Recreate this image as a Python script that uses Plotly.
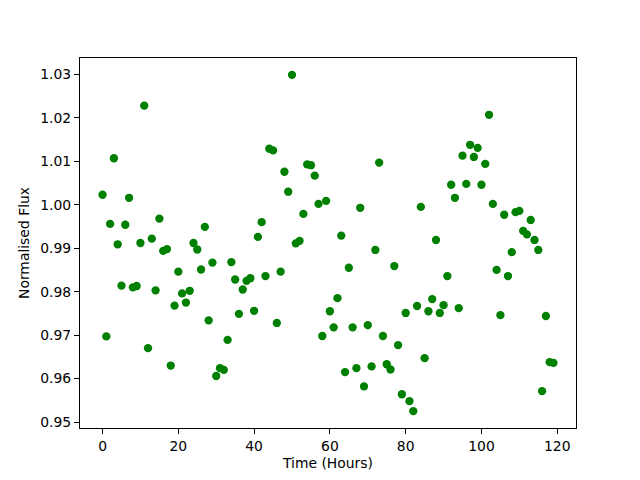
import plotly.graph_objects as go

hours = list(range(120))
flux = [
    1.0023, 0.9697, 0.9956, 1.0107, 0.9909, 0.9814, 0.9954, 1.0016, 0.9810, 0.9813,
    0.9912, 1.0228, 0.9670, 0.9922, 0.9803, 0.9968, 0.9894, 0.9898, 0.9630, 0.9768,
    0.9846, 0.9796, 0.9775, 0.9802, 0.9912, 0.9897, 0.9851, 0.9949, 0.9734, 0.9867,
    0.9606, 0.9624, 0.9620, 0.9689, 0.9868, 0.9828, 0.9749, 0.9805, 0.9825, 0.9831,
    0.9756, 0.9926, 0.9960, 0.9836, 1.0129, 1.0125, 0.9728, 0.9846, 1.0076, 1.0030,
    1.0299, 0.9911, 0.9917, 0.9979, 1.0093, 1.0091, 1.0067, 1.0002, 0.9698, 1.0009,
    0.9755, 0.9718, 0.9785, 0.9929, 0.9615, 0.9855, 0.9718, 0.9624, 0.9993, 0.9582,
    0.9723, 0.9628, 0.9896, 1.0097, 0.9698, 0.9633, 0.9621, 0.9859, 0.9677, 0.9564,
    0.9751, 0.9548, 0.9525, 0.9767, 0.9995, 0.9647, 0.9755, 0.9783, 0.9919, 0.9751,
    0.9769, 0.9836, 1.0046, 1.0016, 0.9762, 1.0113, 1.0048, 1.0138, 1.0110, 1.0131,
    1.0046, 1.0094, 1.0207, 1.0002, 0.9850, 0.9746, 0.9977, 0.9836, 0.9891, 0.9983,
    0.9986, 0.9940, 0.9932, 0.9965, 0.9919, 0.9896, 0.9571, 0.9744, 0.9638, 0.9636,
]

x_ticks = [0, 20, 40, 60, 80, 100, 120]
y_ticks = [0.95, 0.96, 0.97, 0.98, 0.99, 1.00, 1.01, 1.02, 1.03]

fig = go.Figure()
fig.add_trace(go.Scatter(
    x=hours, y=flux, mode="markers",
    marker=dict(color="#008000", size=8.3, line=dict(width=0)),
    showlegend=False,
))

xr = max(hours) - min(hours)
yr = max(flux) - min(flux)

font = dict(family="DejaVu Sans", size=13.9, color="black")
axis_common = dict(
    showgrid=False, zeroline=False, showline=True, linecolor="black", linewidth=1,
    mirror=True, ticks="outside", ticklen=5, tickwidth=1, tickcolor="black",
    tickfont=font, automargin=False,
)
# page body has an 8px margin, so offsets compensate for it
fig.update_layout(
    width=640, height=480,
    margin=dict(l=72, r=72, t=50, b=60, pad=0),
    paper_bgcolor="white", plot_bgcolor="white",
    font=font,
    xaxis=dict(
        range=[min(hours) - 0.05 * xr, max(hours) + 0.05 * xr],
        tickvals=x_ticks, ticktext=[str(t) for t in x_ticks],
        title=dict(text="Time (Hours)", font=font, standoff=5),
        **axis_common,
    ),
    yaxis=dict(
        range=[min(flux) - 0.05 * yr, max(flux) + 0.05 * yr],
        tickvals=y_ticks, ticktext=[f"{t:.2f}" for t in y_ticks],
        title=dict(text="Normalised Flux", font=font, standoff=7),
        **axis_common,
    ),
)

fig.write_html("out.html")
